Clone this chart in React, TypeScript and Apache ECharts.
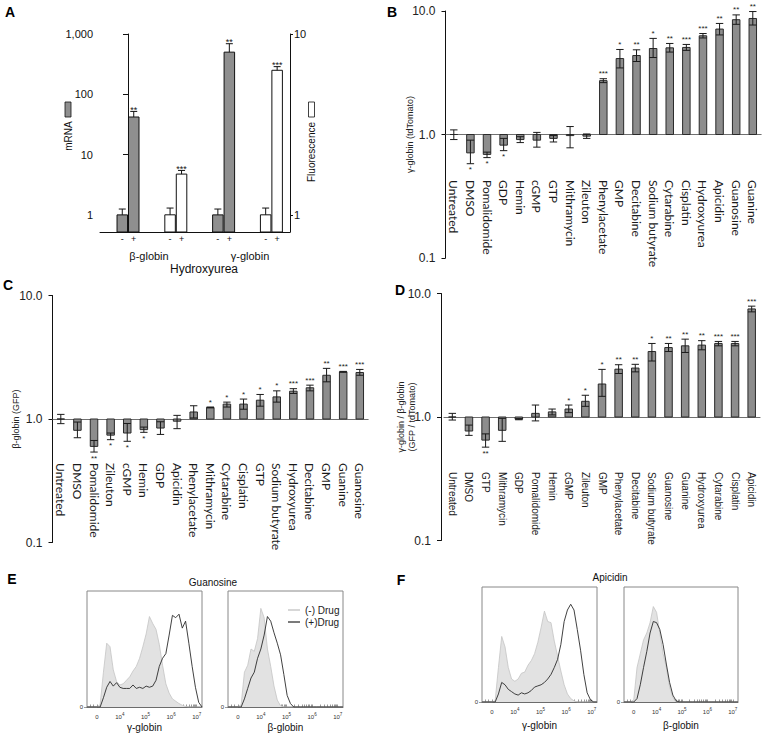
import React, { useEffect, useRef } from 'react';
import * as echarts from 'echarts';

// ---------- Panel A ----------
const aTargets = ['β-globin', 'γ-globin'];
const aTreatments = ['-', '+'];
// order: β(-), β(+), γ(-), γ(+)
const aMrnaMean = [1.0, 42, 1.0, 500];
const aMrnaErr = [1.25, 52, 1.25, 690];
const aMrnaStars = ['', '**', '', '**'];
const aFluorMean = [1.0, 1.68, 1.0, 6.3];
const aFluorErr = [1.09, 1.76, 1.09, 6.6];
const aFluorStars = ['', '***', '', '***'];
const aMrnaTicks = ['1', '10', '100', '1,000'];
const aFluorTicks = ['1', '10'];

// ---------- Panel B ----------
const bDrugs = ['Untreated', 'DMSO', 'Pomalidomide', 'GDP', 'Hemin', 'cGMP', 'GTP', 'Mithramycin', 'Zileuton', 'Phenylacetate', 'GMP', 'Decitabine', 'Sodium butyrate', 'Cytarabine', 'Cisplatin', 'Hydroxyurea', 'Apicidin', 'Guanosine', 'Guanine'];
const bMean = [1.0, 0.71, 0.69, 0.82, 0.91, 0.9, 0.93, 0.98, 0.97, 2.73, 4.12, 4.36, 4.97, 5.03, 5.07, 6.3, 7.14, 8.5, 8.7];
const bLow = [0.91, 0.58, 0.65, 0.74, 0.86, 0.79, 0.87, 0.78, 0.93, 2.63, 3.46, 3.9, 4.2, 4.65, 4.8, 6.05, 6.4, 7.8, 7.7];
const bHigh = [1.09, 0.9, 0.72, 0.93, 0.96, 1.04, 0.98, 1.16, 1.01, 2.83, 4.88, 4.85, 6.0, 5.46, 5.36, 6.57, 7.93, 9.3, 9.9];
const bStars = ['', '*', '*', '*', '', '', '', '', '', '***', '*', '**', '*', '**', '***', '***', '**', '**', '**'];

// ---------- Panel C ----------
const cDrugs = ['Untreated', 'DMSO', 'Pomalidomide', 'Zileuton', 'cGMP', 'Hemin', 'GDP', 'Apicidin', 'Phenylacetate', 'Mithramycin', 'Cytarabine', 'Cisplatin', 'GTP', 'Sodium butyrate', 'Hydroxyurea', 'Decitabine', 'GMP', 'Guanine', 'Guanosine'];
const cMean = [1.0, 0.81, 0.6, 0.74, 0.77, 0.82, 0.845, 0.96, 1.14, 1.24, 1.32, 1.32, 1.42, 1.51, 1.68, 1.79, 2.26, 2.41, 2.38];
const cLow = [0.917, 0.705, 0.54, 0.68, 0.66, 0.78, 0.75, 0.835, 1.02, 1.23, 1.25, 1.2, 1.27, 1.37, 1.61, 1.69, 2.0, 2.39, 2.26];
const cHigh = [1.09, 0.945, 0.67, 0.77, 0.92, 0.86, 0.95, 1.07, 1.28, 1.25, 1.37, 1.45, 1.58, 1.69, 1.76, 1.88, 2.57, 2.43, 2.52];
const cStars = ['', '', '**', '*', '*', '*', '', '', '', '*', '*', '*', '*', '*', '***', '***', '**', '***', '***'];

// ---------- Panel D ----------
const dDrugs = ['Untreated', 'DMSO', 'GTP', 'Mithramycin', 'GDP', 'Pomalidomide', 'Hemin', 'cGMP', 'Zileuton', 'GMP', 'Phenylacetate', 'Decitabine', 'Sodium butyrate', 'Guanosine', 'Guanine', 'Hydroxyurea', 'Cytarabine', 'Cisplatin', 'Apicidin'];
const dMean = [1.0, 0.77, 0.65, 0.78, 0.96, 1.07, 1.1, 1.16, 1.34, 1.85, 2.44, 2.49, 3.39, 3.65, 3.77, 3.82, 3.94, 3.94, 7.5];
const dLow = [0.945, 0.71, 0.57, 0.635, 0.95, 0.93, 1.04, 1.085, 1.22, 1.47, 2.25, 2.32, 2.84, 3.39, 3.33, 3.5, 3.77, 3.77, 7.1];
const dHigh = [1.07, 0.86, 0.73, 0.975, 0.97, 1.25, 1.16, 1.25, 1.5, 2.43, 2.65, 2.67, 3.94, 3.94, 4.27, 4.15, 4.09, 4.09, 7.9];
const dStars = ['', '', '**', '', '', '', '', '*', '*', '*', '**', '**', '*', '**', '**', '**', '***', '***', '***'];

// ---------- Panels E, F (flow histograms, fraction of max, 36 bins) ----------
const eGammaMinus = [0, 0, 0, 0, 0.02, 0.3, 0.55, 0.52, 0.32, 0.22, 0.19, 0.2, 0.23, 0.26, 0.31, 0.35, 0.42, 0.52, 0.63, 0.78, 0.72, 0.67, 0.54, 0.36, 0.2, 0.12, 0.07, 0.05, 0.03, 0.015, 0.005, 0, 0, 0, 0, 0];
const eGammaPlus = [0, 0, 0, 0, 0, 0.08, 0.17, 0.22, 0.18, 0.21, 0.17, 0.16, 0.16, 0.16, 0.19, 0.16, 0.17, 0.16, 0.18, 0.17, 0.18, 0.23, 0.35, 0.42, 0.46, 0.62, 0.79, 0.77, 0.8, 0.68, 0.74, 0.55, 0.35, 0.17, 0.04, 0];
const eBetaMinus = [0, 0, 0, 0, 0.02, 0.3, 0.36, 0.5, 0.48, 0.59, 0.85, 0.77, 0.5, 0.35, 0.18, 0.06, 0.01, 0, 0, 0, 0, 0, 0, 0, 0, 0, 0, 0, 0, 0, 0, 0, 0, 0, 0, 0];
const eBetaPlus = [0, 0, 0, 0, 0, 0.07, 0.16, 0.25, 0.3, 0.42, 0.5, 0.62, 0.78, 0.74, 0.64, 0.55, 0.45, 0.28, 0.1, 0.03, 0, 0, 0, 0, 0, 0, 0, 0, 0, 0, 0, 0, 0, 0, 0, 0];
const fGammaMinus = [0, 0, 0, 0, 0.01, 0.3, 0.57, 0.48, 0.3, 0.2, 0.18, 0.2, 0.25, 0.26, 0.32, 0.36, 0.42, 0.52, 0.65, 0.79, 0.7, 0.69, 0.53, 0.4, 0.27, 0.15, 0.07, 0.03, 0.01, 0, 0, 0, 0, 0, 0, 0];
const fGammaPlus = [0, 0, 0, 0, 0, 0.07, 0.17, 0.15, 0.11, 0.09, 0.07, 0.06, 0.08, 0.07, 0.08, 0.1, 0.13, 0.14, 0.15, 0.17, 0.2, 0.24, 0.3, 0.37, 0.5, 0.7, 0.8, 0.85, 0.8, 0.63, 0.45, 0.24, 0.08, 0.02, 0, 0];
const fBetaMinus = [0, 0, 0, 0.02, 0.3, 0.42, 0.54, 0.6, 0.69, 0.83, 0.78, 0.6, 0.42, 0.3, 0.13, 0.04, 0, 0, 0, 0, 0, 0, 0, 0, 0, 0, 0, 0, 0, 0, 0, 0, 0, 0, 0, 0];
const fBetaPlus = [0, 0, 0, 0, 0.03, 0.15, 0.3, 0.44, 0.6, 0.7, 0.69, 0.63, 0.5, 0.33, 0.17, 0.06, 0.01, 0, 0, 0, 0, 0, 0, 0, 0, 0, 0, 0, 0, 0, 0, 0, 0, 0, 0, 0];
const histTickPos = [30, 100, 178, 256, 334];
const histTickLabels = ['0', '10^4', '10^5', '10^6', '10^7'];
const HIST_STEP = 10;

const FONT = '"Liberation Sans", Arial, sans-serif';
const LOG = Math.log10;

function aSeries(mean: number[], err: number[], stars: string[], shift: number, fill: string, yAxisIndex: number) {
  return {
    type: 'custom',
    xAxisIndex: 0,
    yAxisIndex,
    clip: false,
    data: mean.map((m, j) => [2 * Math.floor(j / 2) + shift + (j % 2 ? 0.12 : -0.12), LOG(m), LOG(err[j])]),
    renderItem: (params: any, api: any) => {
      const j = params.dataIndex;
      const cs = params.coordSys;
      const bottom = cs.y + cs.height;
      const top = api.coord([api.value(0), api.value(1)]);
      const e = api.coord([api.value(0), api.value(2)]);
      const w = api.size([0.22, 0])[0];
      const cx = top[0];
      return {
        type: 'group',
        children: [
          { type: 'rect', shape: { x: cx - w / 2, y: top[1], width: w, height: bottom - top[1] }, style: { fill, stroke: '#111', lineWidth: 1 } },
          { type: 'line', shape: { x1: cx, y1: top[1], x2: cx, y2: e[1] }, style: { stroke: '#111', lineWidth: 1 } },
          { type: 'line', shape: { x1: cx - 3.5, y1: e[1], x2: cx + 3.5, y2: e[1] }, style: { stroke: '#111', lineWidth: 1 } },
          { type: 'text', x: cx, y: e[1] + 3, style: { text: stars[j], fontSize: 9, fontFamily: FONT, fill: '#111', align: 'center', verticalAlign: 'bottom' } },
          { type: 'text', x: cx, y: bottom + 7, style: { text: aTreatments[j % 2], fontSize: 9, fontFamily: FONT, fill: '#111', align: 'center', verticalAlign: 'middle' } },
        ],
      };
    },
  };
}

function drugSeries(idx: number, mean: number[], low: number[], high: number[], stars: string[]) {
  return {
    type: 'custom',
    xAxisIndex: idx,
    yAxisIndex: idx + 1,
    clip: false,
    data: mean.map((m, i) => [i, LOG(m), LOG(low[i]), LOG(high[i])]),
    renderItem: (params: any, api: any) => {
      const i = params.dataIndex;
      const p0 = api.coord([i, 0]);
      const pm = api.coord([i, api.value(1)]);
      const pl = api.coord([i, api.value(2)]);
      const ph = api.coord([i, api.value(3)]);
      const cx = p0[0];
      const w = 7.5;
      const up = api.value(1) >= 0;
      return {
        type: 'group',
        children: [
          { type: 'rect', shape: { x: cx - w / 2, y: Math.min(p0[1], pm[1]), width: w, height: Math.abs(p0[1] - pm[1]) }, style: { fill: '#8d8d8d', stroke: '#2a2a2a', lineWidth: 1 } },
          { type: 'line', shape: { x1: cx, y1: ph[1], x2: cx, y2: pl[1] }, style: { stroke: '#1a1a1a', lineWidth: 1 } },
          { type: 'line', shape: { x1: cx - 3.7, y1: ph[1], x2: cx + 3.7, y2: ph[1] }, style: { stroke: '#1a1a1a', lineWidth: 1 } },
          { type: 'line', shape: { x1: cx - 3.7, y1: pl[1], x2: cx + 3.7, y2: pl[1] }, style: { stroke: '#1a1a1a', lineWidth: 1 } },
          {
            type: 'text', x: cx, y: up ? ph[1] - 1 : pl[1] + 2,
            style: { text: stars[i], fontSize: 8, fontFamily: FONT, fill: '#222', align: 'center', verticalAlign: up ? 'bottom' : 'top' },
          },
        ],
      };
    },
  };
}

function drugX(gridIndex: number, data: string[], margin: number, fontSize: number, fontFamily: string) {
  return {
    type: 'category', gridIndex, data,
    axisLine: { show: true, onZero: true, lineStyle: { color: '#707070', width: 1.2 } },
    axisTick: { show: false },
    splitLine: { show: false },
    axisLabel: { interval: 0, rotate: -90, margin, fontSize, fontFamily, color: '#1a1a1a', hideOverlap: false },
  };
}

function drugY(gridIndex: number, name: string, nameGap: number, offset: number) {
  return {
    type: 'value', gridIndex, min: -1, max: 1, interval: 1, offset,
    axisLine: { show: true, lineStyle: { color: '#111', width: 1 } },
    axisTick: { show: true, length: 4, lineStyle: { color: '#111' } },
    splitLine: { show: false },
    axisLabel: { formatter: (v: number) => Math.pow(10, v).toFixed(1), fontSize: 12, fontFamily: FONT, color: '#222', margin: 10 },
    name, nameLocation: 'middle', nameRotate: 90, nameGap, nameMoveOverlap: false,
    nameTextStyle: { fontSize: 9, fontFamily: FONT, color: '#222', lineHeight: 11 },
  };
}

const histMinor: number[] = [];
[100, 178, 256].forEach((d) => { for (let m = 2; m <= 9; m++) histMinor.push(d + 78 * LOG(m)); });
[10, 20, 45, 60, 75, 88].forEach((p) => histMinor.push(p));
const histTickValues = histTickPos.concat(histMinor);

function histX(gridIndex: number, name: string, nameGap: number) {
  return {
    type: 'value', gridIndex, min: 0, max: 350,
    axisLine: { show: true, onZero: false, lineStyle: { color: '#555', width: 0.8 } },
    axisTick: { show: true, inside: true, length: 2.5, customValues: histTickValues, lineStyle: { color: '#555', width: 0.6 } },
    splitLine: { show: false },
    axisLabel: {
      customValues: histTickPos, margin: 5, color: '#333', fontSize: 6, fontFamily: FONT,
      formatter: (v: number) => {
        const i = histTickPos.findIndex((p) => Math.abs(p - v) < 0.5);
        const t = histTickLabels[i];
        if (!t) return '';
        const parts = t.split('^');
        return parts[1] ? `{b|${parts[0]}}{s|${parts[1]}}` : `{b|${parts[0]}}`;
      },
      rich: {
        b: { fontSize: 6, lineHeight: 9, fontFamily: FONT, color: '#333' },
        s: { fontSize: 4.5, verticalAlign: 'top', fontFamily: FONT, color: '#333' },
      },
    },
    name, nameLocation: 'middle', nameGap, nameMoveOverlap: false,
    nameTextStyle: { fontSize: 10, fontFamily: FONT, color: '#111' },
  };
}

function histY(gridIndex: number) {
  return {
    type: 'value', gridIndex, min: 0, max: 1,
    axisLine: { show: false },
    axisTick: { show: true, length: 3, customValues: [0], lineStyle: { color: '#555', width: 0.6 } },
    axisLabel: { customValues: [0], formatter: () => '0', fontSize: 6, fontFamily: FONT, color: '#333', margin: 4 },
    splitLine: { show: false },
  };
}

function histSeries(axisIdx: number, minus: number[], plus: number[]) {
  return [
    {
      type: 'line', name: '(-) Drug', xAxisIndex: axisIdx, yAxisIndex: axisIdx + 1,
      data: minus.map((v, i) => [i * HIST_STEP, v]), symbol: 'none', silent: true,
      lineStyle: { color: '#c4c4c4', width: 0.8 }, itemStyle: { color: '#c4c4c4' },
      areaStyle: { color: '#e2e2e2', opacity: 1 }, z: 2,
    },
    {
      type: 'line', name: '(+)Drug', xAxisIndex: axisIdx, yAxisIndex: axisIdx + 1,
      data: plus.map((v, i) => [i * HIST_STEP, v]), symbol: 'none', silent: true,
      lineStyle: { color: '#2b2b2b', width: 0.9 }, itemStyle: { color: '#2b2b2b' }, z: 3,
    },
  ];
}

function letter(text: string, x: number, y: number) {
  return { type: 'text', x, y, style: { text, font: `bold 14px ${FONT}`, fill: '#000', align: 'center', verticalAlign: 'middle' } };
}
function label(text: string, x: number, y: number, fontSize: number, rotation = 0) {
  return { type: 'text', x, y, rotation, style: { text, fontSize, fontFamily: FONT, fill: '#111', align: 'center', verticalAlign: 'middle' } };
}

function buildOption() {
  const gridBase = { outerBoundsMode: 'none', containLabel: false };
  return {
    animation: false,
    backgroundColor: '#ffffff',
    textStyle: { fontFamily: FONT },
    grid: [
      { ...gridBase, left: 100, top: 34, width: 190, height: 198 },
      { ...gridBase, left: 445.5, top: 11, width: 315.6, height: 247 },
      { ...gridBase, left: 52.5, top: 295.5, width: 315.6, height: 247 },
      { ...gridBase, left: 444, top: 293.5, width: 316, height: 247 },
      { ...gridBase, left: 87, top: 591, width: 115, height: 116, show: true, borderColor: '#888', borderWidth: 1 },
      { ...gridBase, left: 228, top: 591, width: 115, height: 116, show: true, borderColor: '#888', borderWidth: 1 },
      { ...gridBase, left: 482, top: 587, width: 115, height: 115, show: true, borderColor: '#888', borderWidth: 1 },
      { ...gridBase, left: 624, top: 587, width: 114, height: 115, show: true, borderColor: '#888', borderWidth: 1 },
    ],
    xAxis: [
      {
        type: 'value', gridIndex: 0, min: -0.586, max: 3.389,
        axisLine: { show: true, onZero: false, lineStyle: { color: '#111', width: 1 } },
        axisTick: { show: false }, axisLabel: { show: false }, splitLine: { show: false },
      },
      drugX(1, bDrugs, -78, 12, 'Lato, "Open Sans", sans-serif'),
      drugX(2, cDrugs, -79.5, 12, 'Lato, "Open Sans", sans-serif'),
      drugX(3, dDrugs, -68.5, 10, FONT),
      histX(4, 'γ-globin', 15),
      histX(5, 'β-globin', 15),
      histX(6, 'γ-globin', 18),
      histX(7, 'β-globin', 18),
    ],
    yAxis: [
      {
        type: 'value', gridIndex: 0, min: -0.284, max: 3, position: 'left',
        axisLine: { show: true, lineStyle: { color: '#111', width: 1 } },
        axisTick: { show: true, length: 5, customValues: [0, 1, 2, 3], lineStyle: { color: '#111' } },
        axisLabel: { customValues: [0, 1, 2, 3], formatter: (v: number) => aMrnaTicks[Math.round(v)], fontSize: 11, fontFamily: FONT, color: '#111', margin: 7 },
        splitLine: { show: false },
      },
      {
        type: 'value', gridIndex: 0, min: -0.095, max: 1, position: 'right',
        axisLine: { show: true, lineStyle: { color: '#111', width: 1 } },
        axisTick: { show: true, length: 3, customValues: [0, 1], lineStyle: { color: '#111' } },
        axisLabel: { customValues: [0, 1], formatter: (v: number) => aFluorTicks[Math.round(v)], fontSize: 11, fontFamily: FONT, color: '#111', margin: 4 },
        splitLine: { show: false },
      },
      drugY(1, 'γ-globin (tdTomato)', 30, 0),
      drugY(2, 'β-globin (GFP)', 31, 0),
      drugY(3, 'γ-globin / β-globin\n(GFP / tdTomato)', 24, 3),
      histY(4),
      histY(5),
      histY(6),
      histY(7),
    ],
    legend: {
      show: true, selectedMode: false, orient: 'vertical', left: 283, top: 600,
      itemWidth: 12, itemHeight: 1.2, itemGap: 2, icon: 'rect',
      textStyle: { fontSize: 10, fontFamily: FONT, color: '#222' },
      data: [
        { name: '(-) Drug', itemStyle: { color: '#bdbdbd' } },
        { name: '(+)Drug', itemStyle: { color: '#222' } },
      ],
    },
    graphic: [
      letter('A', 10, 12),
      letter('B', 392, 12),
      letter('C', 8, 285),
      letter('D', 400, 290),
      letter('E', 12, 579),
      letter('F', 401, 580),
      label(aTargets[0], 149, 256, 11),
      label(aTargets[1], 250, 256, 11),
      label('Hydroxyurea', 204, 269, 12),
      { type: 'rect', shape: { x: 65, y: 102, width: 6, height: 15 }, style: { fill: '#8f8f8f', stroke: '#111', lineWidth: 0.8 } },
      label('mRNA', 68, 136, 10, Math.PI / 2),
      { type: 'rect', shape: { x: 308.5, y: 102, width: 6, height: 15 }, style: { fill: '#fff', stroke: '#111', lineWidth: 0.8 } },
      label('Fluorescence', 311.5, 152, 10, Math.PI / 2),
      label('Guanosine', 213, 582, 10),
      label('Apicidin', 610, 577, 10),
    ],
    series: [
      aSeries(aMrnaMean, aMrnaErr, aMrnaStars, 0, '#8f8f8f', 0),
      aSeries(aFluorMean, aFluorErr, aFluorStars, 1, '#ffffff', 1),
      drugSeries(1, bMean, bLow, bHigh, bStars),
      drugSeries(2, cMean, cLow, cHigh, cStars),
      drugSeries(3, dMean, dLow, dHigh, dStars),
      ...histSeries(4, eGammaMinus, eGammaPlus),
      ...histSeries(5, eBetaMinus, eBetaPlus),
      ...histSeries(6, fGammaMinus, fGammaPlus),
      ...histSeries(7, fBetaMinus, fBetaPlus),
    ],
  };
}

export default function App() {
  const ref = useRef<HTMLDivElement>(null);
  useEffect(() => {
    if (!ref.current) return;
    const chart = echarts.init(ref.current, null, { renderer: 'svg' });
    chart.setOption(buildOption() as any);
    return () => chart.dispose();
  }, []);
  return (
    <div
      ref={ref}
      style={{ position: 'absolute', left: 0, top: 0, width: 763, height: 739, background: '#fff' }}
    />
  );
}
